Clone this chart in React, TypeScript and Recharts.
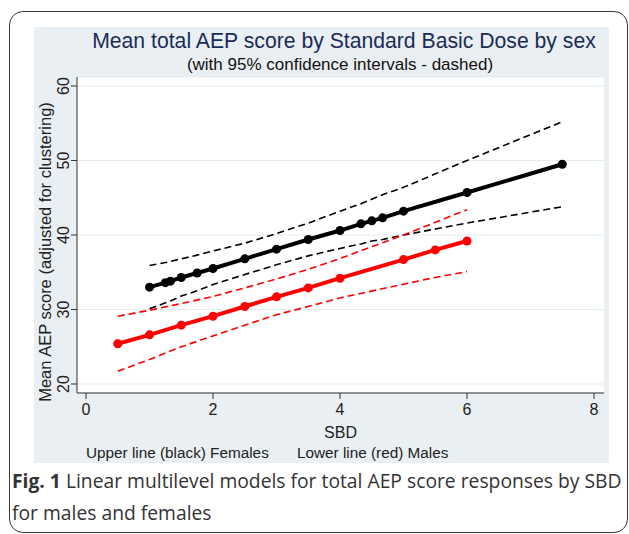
import React from "react";
import { LineChart, Line, XAxis, YAxis, CartesianGrid, Label } from "recharts";

// SBD values and fitted means
const femaleSbd = [1, 1.25, 1.33, 1.5, 1.75, 2, 2.5, 3, 3.5, 4, 4.33, 4.5, 4.67, 5, 6, 7.5];
const femaleMean = [33.0, 33.6, 33.8, 34.3, 34.9, 35.5, 36.8, 38.1, 39.4, 40.6, 41.5, 41.9, 42.3, 43.2, 45.7, 49.5];
const femaleUpper = [35.9, 36.3, 36.45, 36.8, 37.3, 37.85, 38.9, 40.2, 41.6, 43.2, 44.2, 44.8, 45.4, 46.4, 50.0, 55.2];
const femaleLower = [30.1, 30.9, 31.15, 31.8, 32.5, 33.35, 34.7, 36.0, 37.2, 38.2, 38.8, 39.2, 39.4, 40.0, 41.6, 43.8];

const maleSbd = [0.5, 1, 1.5, 2, 2.5, 3, 3.5, 4, 5, 5.5, 6];
const maleMean = [25.4, 26.6, 27.9, 29.1, 30.4, 31.7, 32.9, 34.2, 36.7, 38.0, 39.2];
const maleUpper = [29.1, 29.9, 30.8, 31.75, 32.9, 34.1, 35.4, 36.85, 40.0, 41.7, 43.4];
const maleLower = [21.7, 23.3, 25.0, 26.45, 27.9, 29.3, 30.4, 31.55, 33.4, 34.3, 35.1];

const xTicks = [0, 2, 4, 6, 8];
const yTicks = [20, 30, 40, 50, 60];

const toRows = (xs: number[], ys: number[]) => xs.map((x, i) => ({ x, y: ys[i] }));

const FONT = "'Liberation Sans', Arial, Helvetica, sans-serif";
const CAPTION_FONT = "'Open Sans', 'Noto Sans', sans-serif";

const YTick = (props: any) => {
  const { x, y, payload } = props;
  return (
    <text
      x={x}
      y={y}
      transform={`rotate(-90 ${x} ${y})`}
      textAnchor="middle"
      fontSize={16}
      fontFamily={FONT}
      fill="#222"
    >
      {payload.value}
    </text>
  );
};

export default function App() {
  const femMean = toRows(femaleSbd, femaleMean);
  const femUp = toRows(femaleSbd, femaleUpper);
  const femLo = toRows(femaleSbd, femaleLower);
  const malMean = toRows(maleSbd, maleMean);
  const malUp = toRows(maleSbd, maleUpper);
  const malLo = toRows(maleSbd, maleLower);

  const dashed = { strokeWidth: 1.6, strokeDasharray: "7 4", dot: false, isAnimationActive: false, type: "linear" as const };

  return (
    <div style={{ position: "absolute", left: 0, top: 0, width: 629, height: 534, background: "#fff", overflow: "hidden" }}>
      {/* outer frame */}
      <div
        style={{
          position: "absolute",
          left: 9,
          top: 11,
          width: 619,
          height: 522,
          border: "1.5px solid #3a3a3a",
          borderRadius: 14,
          boxSizing: "border-box",
        }}
      />
      {/* graph panel */}
      <div style={{ position: "absolute", left: 34, top: 27, width: 575, height: 436, background: "#e9eff2" }} />

      <div style={{ position: "absolute", left: 0, top: 0 }}>
        <LineChart width={629} height={534} margin={{ top: 77, right: 25, bottom: 95, left: 37 }}>
          <CartesianGrid vertical={false} stroke="#e3ebef" fill="#fff" />
          <XAxis
            type="number"
            dataKey="x"
            domain={[-0.142, 8.157]}
            ticks={xTicks}
            allowDataOverflow
            height={46}
            tickSize={6}
            tickMargin={5}
            stroke="#333"
            tick={{ fill: "#222", fontSize: 16, fontFamily: FONT }}
          >
            <Label
              value="SBD"
              position="insideBottom"
              offset={1}
              style={{ fill: "#222", fontSize: 16, fontFamily: FONT }}
            />
          </XAxis>
          <YAxis
            type="number"
            dataKey="y"
            domain={[18.79, 61.21]}
            ticks={yTicks}
            allowDataOverflow
            width={40}
            tickSize={6}
            tickMargin={2}
            stroke="#333"
            tick={<YTick />}
          >
            <Label
              content={() => (
                <text
                  x={45}
                  y={252}
                  transform="rotate(-90 45 252)"
                  textAnchor="middle"
                  dominantBaseline="central"
                  fontSize={16.5}
                  fontFamily={FONT}
                  fill="#222"
                >
                  Mean AEP score (adjusted for clustering)
                </text>
              )}
            />
          </YAxis>

          <Line data={femUp} dataKey="y" stroke="#000" {...dashed} />
          <Line data={femLo} dataKey="y" stroke="#000" {...dashed} />
          <Line data={malUp} dataKey="y" stroke="#ff0000" {...dashed} />
          <Line data={malLo} dataKey="y" stroke="#ff0000" {...dashed} />

          <Line
            data={malMean}
            dataKey="y"
            type="linear"
            stroke="#ff0000"
            strokeWidth={4}
            dot={{ r: 4.5, fill: "#ff0000", stroke: "none" }}
            isAnimationActive={false}
          />
          <Line
            data={femMean}
            dataKey="y"
            type="linear"
            stroke="#000"
            strokeWidth={4}
            dot={{ r: 4.5, fill: "#000", stroke: "none" }}
            isAnimationActive={false}
          />
        </LineChart>
      </div>

      {/* titles, note and figure caption */}
      <svg width={629} height={534} style={{ position: "absolute", left: 0, top: 0, pointerEvents: "none" }}>
        <text x={344} y={48} textAnchor="middle" fontSize={21.2} fontFamily={FONT} fill="#1b2c58">
          Mean total AEP score by Standard Basic Dose by sex
        </text>
        <text x={340} y={70} textAnchor="middle" fontSize={17} fontFamily={FONT} fill="#111">
          (with 95% confidence intervals - dashed)
        </text>
        <text x={86} y={458} fontSize={15.3} fontFamily={FONT} fill="#222">
          Upper line (black) Females
        </text>
        <text x={297} y={458} fontSize={15.3} fontFamily={FONT} fill="#222">
          Lower line (red) Males
        </text>
        <text x={12} y={488} fontSize={19.3} fontFamily={CAPTION_FONT} fill="#333">
          <tspan fontWeight={700}>Fig. 1</tspan>
          <tspan> Linear multilevel models for total AEP score responses by SBD</tspan>
        </text>
        <text x={12} y={520} fontSize={19.3} fontFamily={CAPTION_FONT} fill="#333">
          for males and females
        </text>
      </svg>
    </div>
  );
}
